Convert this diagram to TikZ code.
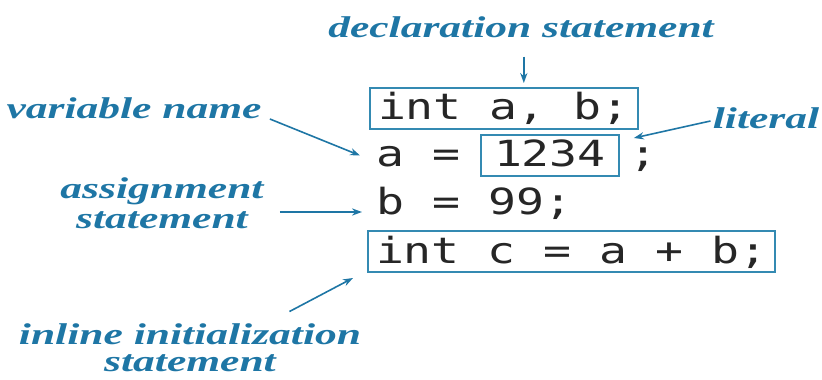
\documentclass[tikz,border=0pt]{standalone}
\usepackage{fontspec}
\setmainfont{Liberation Serif}
\newfontfamily\lblfont{Liberation Serif}[FakeStretch=1.45]
\newfontfamily\codefont{DejaVu Sans Mono}[FakeStretch=1.29]
\usepackage{xcolor}
\usetikzlibrary{arrows.meta,positioning}
\definecolor{javablue}{RGB}{30,118,165}
\definecolor{boxblue}{RGB}{52,138,178}
\definecolor{codeink}{RGB}{38,38,38}

\begin{document}
\begin{tikzpicture}[
  x=0.5pt, y=-0.5pt,
  >={Stealth[length=5pt,width=3.6pt]},
  lbl/.style ={text=javablue, font=\lblfont\fontsize{15}{15}\selectfont\bfseries\itshape,
               align=center, inner sep=1pt},
  code/.style={text=codeink, font=\codefont\fontsize{18}{20}\selectfont,
               inner xsep=4pt, inner ysep=1pt, text height=15pt, text depth=3.5pt},
  cbox/.style={code, draw=boxblue, line width=1pt},
  arr/.style ={->, draw=javablue, line width=0.8pt}
]
    \useasboundingbox (0,0) rectangle (822,379);

    % Code lines (placed on their baselines)
    \node[cbox, anchor=base west] (declbox) at (369,120) {int a, b;};
    \node[code, anchor=base west] (aeq)     at (368,167) {a =};
    \node[cbox, anchor=base west, inner xsep=6.5pt] (litbox) at (480,167) {1234};
    \node[code, anchor=base west] (semi)    at (621,167) {;};
    \node[code, anchor=base west] (bline)   at (368,214) {b = 99;};
    \node[cbox, anchor=base west] (initbox) at (367,263) {int c = a + b;};

    % Labels
    \node[lbl, anchor=base] (decl)    at (521,38)  {declaration statement};
    \node[lbl, anchor=base] (varname) at (134,119) {variable name};
    \node[lbl, anchor=base] (literal) at (766,129) {literal};
    \node[lbl] (assign)  at (162,203) {assignment\\statement};
    \node[lbl, font=\lblfont\fontsize{15}{13.5}\selectfont\bfseries\itshape]
          (inline)  at (190,348) {inline initialization\\statement};

    % Arrows
    \draw[arr, shorten <=8pt, shorten >=2pt] ([xshift=10pt]declbox.north |- decl.south) -- ([xshift=10pt]declbox.north);
    \draw[arr] ([xshift=3pt]varname.base east) -- ([xshift=-4pt]aeq.west);
    \draw[arr] ([yshift=4pt]literal.base west) -- ([xshift=7pt,yshift=-2pt]litbox.north east);
    \draw[arr, shorten >=3pt] ([xshift=7pt,yshift=-4.5pt]assign.east) -- ([yshift=-4.5pt]assign.east -| bline.west);
    \draw[arr] ([xshift=-37pt,yshift=5pt]inline.north east) -- ([xshift=-7pt,yshift=-2.5pt]initbox.south west);
\end{tikzpicture}
\end{document}
